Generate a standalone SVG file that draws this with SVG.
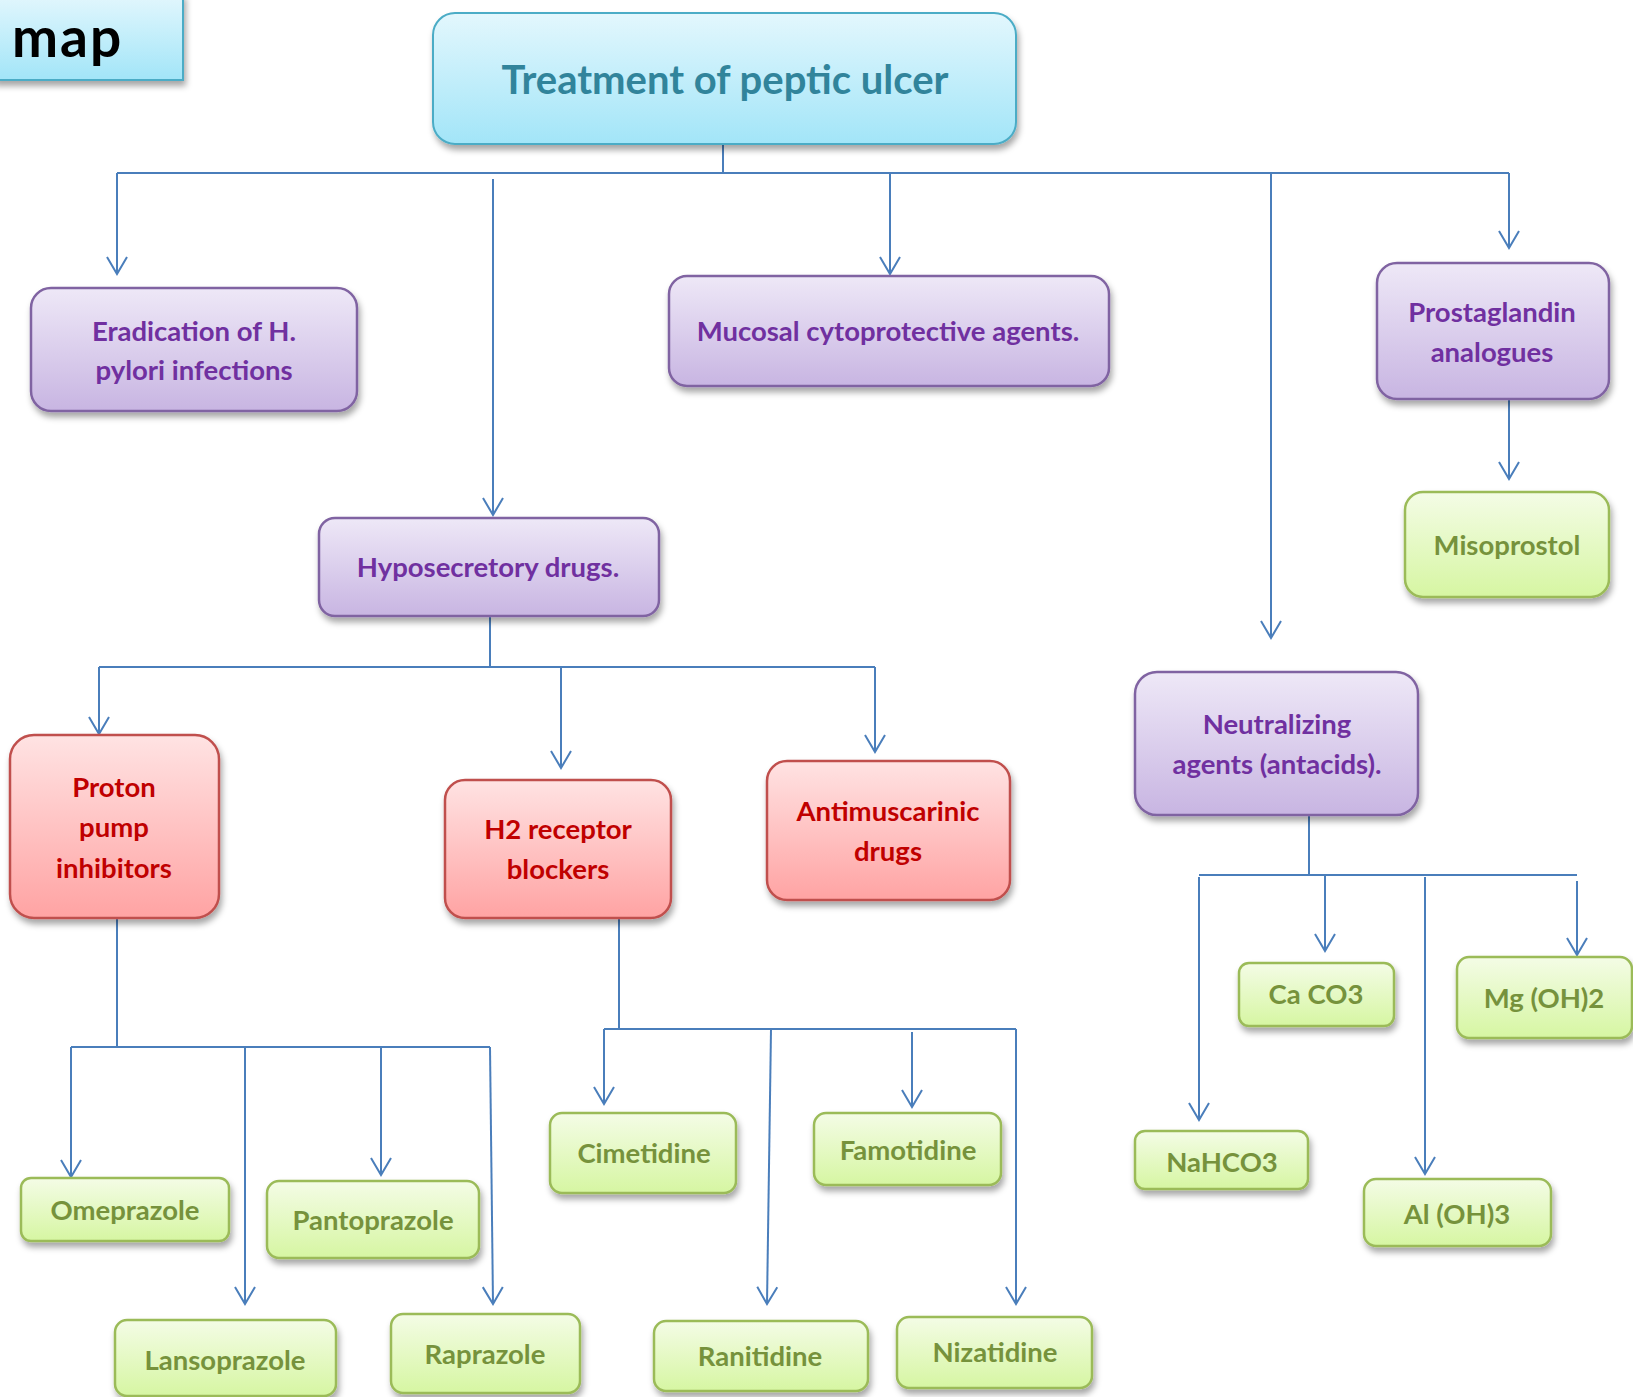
<svg xmlns="http://www.w3.org/2000/svg" width="1633" height="1397" viewBox="0 0 1633 1397">
<defs>
<linearGradient id="gBlue" x1="0" y1="0" x2="0" y2="1"><stop offset="0" stop-color="#E3F7FD"/><stop offset="1" stop-color="#A2E5F8"/></linearGradient>
<linearGradient id="gPurple" x1="0" y1="0" x2="0" y2="1"><stop offset="0" stop-color="#EEE8F7"/><stop offset="1" stop-color="#C8B5E2"/></linearGradient>
<linearGradient id="gRed" x1="0" y1="0" x2="0" y2="1"><stop offset="0" stop-color="#FFE3E3"/><stop offset="1" stop-color="#FFA3A3"/></linearGradient>
<linearGradient id="gGreen" x1="0" y1="0" x2="0" y2="1"><stop offset="0" stop-color="#F4FCE6"/><stop offset="1" stop-color="#D6F6A2"/></linearGradient>
<filter id="sh" x="-10%" y="-10%" width="130%" height="140%"><feDropShadow dx="2" dy="5" stdDeviation="3" flood-color="#000" flood-opacity="0.35"/></filter>
<marker id="arr" markerUnits="userSpaceOnUse" markerWidth="24" markerHeight="24" viewBox="0 0 24 24" refX="20" refY="12" orient="auto">
<path d="M3,2 L20,12 L3,22" fill="none" stroke="#4A7EBB" stroke-width="2"/>
</marker>
<style>
.c{fill:none;stroke:#4A7EBB;stroke-width:2}
.a{marker-end:url(#arr)}
.bl{fill:url(#gBlue);stroke:#4BACC6;stroke-width:2;filter:url(#sh)}
.pu{fill:url(#gPurple);stroke:#8064A2;stroke-width:2.5;filter:url(#sh)}
.re{fill:url(#gRed);stroke:#C0504D;stroke-width:2.5;filter:url(#sh)}
.gr{fill:url(#gGreen);stroke:#9BBB59;stroke-width:2.5;filter:url(#sh)}
text{font-family:Lato,"Open Sans","Liberation Sans",sans-serif;font-weight:bold;text-anchor:middle}
.tp{fill:#7030A0;font-size:27.5px}
.tr{fill:#C00000;font-size:27.5px}
.tg{fill:#76923C;font-size:27.5px}
</style>
</defs>
<rect width="1633" height="1397" fill="#fff"/>

<g id="connectors">
<path class="c" d="M723,129 V173 M117,173 H1509"/>
<path class="c a" d="M117,173 V274"/>
<path class="c a" d="M493,179 V515"/>
<path class="c a" d="M890,173 V274"/>
<path class="c a" d="M1271,173 V638"/>
<path class="c a" d="M1509,173 V248"/>
<path class="c a" d="M1509,399 V479"/>
<path class="c" d="M490,616 V667 M99,667 H875"/>
<path class="c a" d="M99,667 V734"/>
<path class="c a" d="M561,667 V768"/>
<path class="c a" d="M875,667 V752"/>
<path class="c" d="M117,918 V1047 M71,1047 H490"/>
<path class="c a" d="M71,1047 V1177"/>
<path class="c a" d="M245,1047 V1304"/>
<path class="c a" d="M381,1047 V1175"/>
<path class="c a" d="M490,1047 L493,1304"/>
<path class="c" d="M619,911 V1029 M604,1029 H1016"/>
<path class="c a" d="M604,1029 V1104"/>
<path class="c a" d="M771,1029 L767,1304"/>
<path class="c a" d="M912,1032 V1107"/>
<path class="c a" d="M1016,1029 V1304"/>
<path class="c" d="M1309,808 V875 M1199,875 H1577"/>
<path class="c a" d="M1199,877 V1120"/>
<path class="c a" d="M1325,875 V951"/>
<path class="c a" d="M1425,877 V1174"/>
<path class="c a" d="M1577,881 V955"/>
</g>

<g id="map">
<rect x="-6" y="-6" width="189" height="86" class="bl"/>
<text x="12" y="57" style="font-size:55px;letter-spacing:2px;fill:#000;text-anchor:start">map</text>
</g>

<g id="title">
<rect x="433" y="13" width="583" height="131" rx="22" class="bl"/>
<text x="725" y="94" style="font-size:40px;fill:#31849B">Treatment of peptic ulcer</text>
</g>

<g id="eradication">
<rect x="31" y="288" width="326" height="123" rx="20" class="pu"/>
<text class="tp" x="194" y="341">Eradication of H.</text>
<text class="tp" x="194" y="380">pylori infections</text>
</g>

<g id="mucosal">
<rect x="669" y="276" width="440" height="110" rx="18" class="pu"/>
<text class="tp" x="888" y="341">Mucosal cytoprotective agents.</text>
</g>

<g id="prostaglandin">
<rect x="1377" y="263" width="232" height="136" rx="20" class="pu"/>
<text class="tp" x="1492" y="322">Prostaglandin</text>
<text class="tp" x="1492" y="362">analogues</text>
</g>

<g id="misoprostol">
<rect x="1405" y="492" width="204" height="105" rx="18" class="gr"/>
<text class="tg" x="1507" y="555">Misoprostol</text>
</g>

<g id="hyposecretory">
<rect x="319" y="518" width="340" height="98" rx="16" class="pu"/>
<text class="tp" x="488" y="577">Hyposecretory drugs.</text>
</g>

<g id="neutralizing">
<rect x="1135" y="672" width="283" height="143" rx="22" class="pu"/>
<text class="tp" x="1277" y="734">Neutralizing</text>
<text class="tp" x="1277" y="774">agents (antacids).</text>
</g>

<g id="ppi">
<rect x="10" y="735" width="209" height="183" rx="24" class="re"/>
<text class="tr" x="114" y="797">Proton</text>
<text class="tr" x="114" y="837">pump</text>
<text class="tr" x="114" y="878">inhibitors</text>
</g>

<g id="h2">
<rect x="445" y="780" width="226" height="138" rx="20" class="re"/>
<text class="tr" x="558" y="839">H2 receptor</text>
<text class="tr" x="558" y="879">blockers</text>
</g>

<g id="antimuscarinic">
<rect x="767" y="761" width="243" height="139" rx="20" class="re"/>
<text class="tr" x="888" y="821">Antimuscarinic</text>
<text class="tr" x="888" y="861">drugs</text>
</g>

<g id="omeprazole">
<rect x="21" y="1178" width="208" height="63" rx="10" class="gr"/>
<text class="tg" x="125" y="1220">Omeprazole</text>
</g>
<g id="pantoprazole">
<rect x="267" y="1181" width="212" height="77" rx="12" class="gr"/>
<text class="tg" x="373" y="1230">Pantoprazole</text>
</g>
<g id="lansoprazole">
<rect x="115" y="1320" width="221" height="76" rx="12" class="gr"/>
<text class="tg" x="225" y="1370">Lansoprazole</text>
</g>
<g id="raprazole">
<rect x="391" y="1314" width="189" height="79" rx="12" class="gr"/>
<text class="tg" x="485" y="1364">Raprazole</text>
</g>

<g id="cimetidine">
<rect x="550" y="1113" width="186" height="80" rx="12" class="gr"/>
<text class="tg" x="644" y="1163">Cimetidine</text>
</g>
<g id="famotidine">
<rect x="814" y="1113" width="187" height="72" rx="12" class="gr"/>
<text class="tg" x="908" y="1160">Famotidine</text>
</g>
<g id="ranitidine">
<rect x="654" y="1321" width="214" height="70" rx="12" class="gr"/>
<text class="tg" x="760" y="1366">Ranitidine</text>
</g>
<g id="nizatidine">
<rect x="897" y="1317" width="195" height="71" rx="12" class="gr"/>
<text class="tg" x="995" y="1362">Nizatidine</text>
</g>

<g id="nahco3">
<rect x="1135" y="1131" width="173" height="58" rx="10" class="gr"/>
<text class="tg" x="1222" y="1172">NaHCO3</text>
</g>
<g id="caco3">
<rect x="1239" y="963" width="155" height="63" rx="10" class="gr"/>
<text class="tg" x="1316" y="1004">Ca CO3</text>
</g>
<g id="aloh3">
<rect x="1364" y="1179" width="187" height="67" rx="12" class="gr"/>
<text class="tg" x="1457" y="1224">Al (OH)3</text>
</g>
<g id="mgoh2">
<rect x="1457" y="957" width="175" height="81" rx="12" class="gr"/>
<text class="tg" x="1544" y="1008">Mg (OH)2</text>
</g>
</svg>
